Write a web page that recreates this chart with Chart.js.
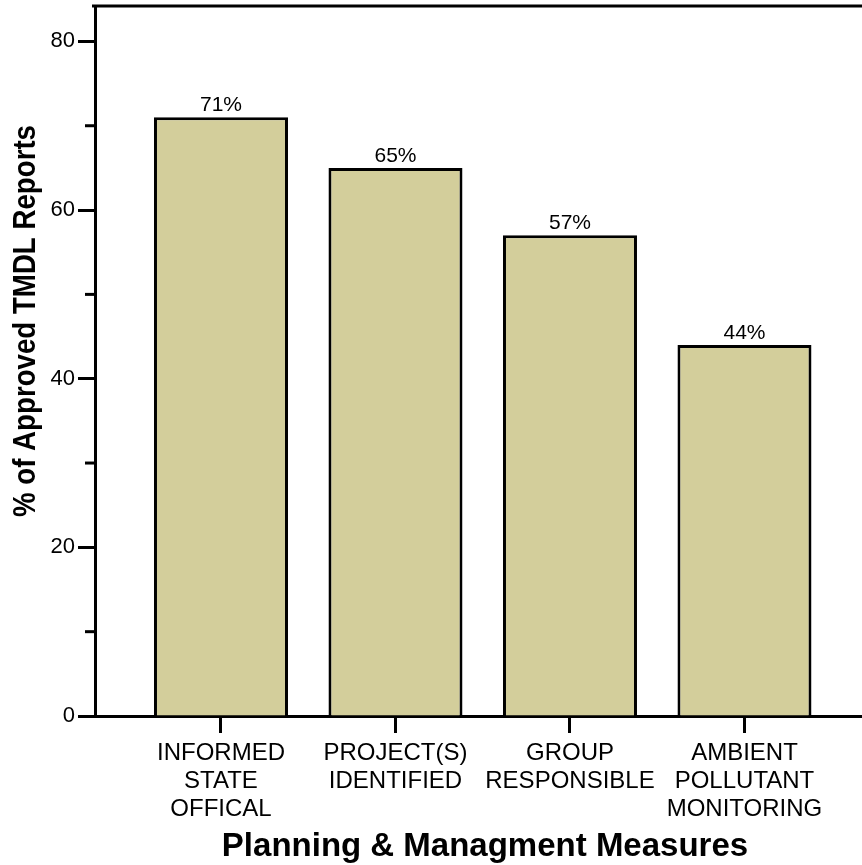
<!DOCTYPE html>
<html>
<head>
<meta charset="utf-8">
<script src="https://cdn.jsdelivr.net/npm/chart.js@4"></script>
<style>
  html, body { margin: 0; padding: 0; background: #fff; overflow: hidden; }
  #wrap { width: 862px; height: 865px; overflow: hidden; }
</style>
</head>
<body>
<div id="wrap"><canvas id="barChart" width="875" height="865"></canvas></div>
<script>
const categories = [
  ["INFORMED", "STATE", "OFFICAL"],
  ["PROJECT(S)", "IDENTIFIED"],
  ["GROUP", "RESPONSIBLE"],
  ["AMBIENT", "POLLUTANT", "MONITORING"]
];
const percents = [71, 65, 57, 44];
const yTicks = [0, 10, 20, 30, 40, 50, 60, 70, 80];
const yLabelled = [0, 20, 40, 60, 80];
const xTitle = "Planning & Managment Measures";
const yTitle = "% of Approved TMDL Reports";

const family = "'Liberation Sans', Arial, sans-serif";

// labels above bars, axis titles, top frame line and the short minor ticks
const extras = {
  id: "extras",
  afterDatasetsDraw(chart) {
    const ctx = chart.ctx;
    const meta = chart.getDatasetMeta(0);
    ctx.save();
    ctx.font = "21px " + family;
    ctx.fillStyle = "#000";
    ctx.textAlign = "center";
    ctx.textBaseline = "alphabetic";
    meta.data.forEach((bar, i) => {
      ctx.fillText(percents[i] + "%", bar.x, bar.y - 6);
    });
    ctx.restore();
  },
  afterDraw(chart) {
    const { ctx, chartArea, scales } = chart;
    ctx.save();
    ctx.strokeStyle = "#000";
    ctx.lineWidth = 3;
    ctx.beginPath();
    ctx.moveTo(chartArea.left - 3, chartArea.top);
    ctx.lineTo(chart.width, chartArea.top);
    ctx.stroke();
    yTicks.forEach((v) => {
      if (yLabelled.includes(v)) return;
      const y = scales.y.getPixelForValue(v);
      ctx.beginPath();
      ctx.moveTo(chartArea.left - 10, y);
      ctx.lineTo(chartArea.left, y);
      ctx.stroke();
    });

    ctx.fillStyle = "#000";
    ctx.textAlign = "center";
    ctx.textBaseline = "alphabetic";
    ctx.font = "bold 33px " + family;
    ctx.fillText(xTitle, 485, 856);

    // y title is set in a narrower bold face in the original
    ctx.save();
    ctx.font = "bold 32px " + family;
    ctx.translate(35, 321);
    ctx.rotate(-Math.PI / 2);
    ctx.scale(392 / ctx.measureText(yTitle).width, 1);
    ctx.fillText(yTitle, 0, 0);
    ctx.restore();

    ctx.restore();
  },
};

function drawChart() {
  const canvas = document.getElementById("barChart");
  const config = {
    type: "bar",
    data: {
      datasets: [
        {
          data: percents.map((v, i) => ({ x: i + 1, y: v })),
          backgroundColor: "rgb(211,206,155)",
          borderColor: "#000",
          borderWidth: 3,
          barPercentage: 0.768,
          categoryPercentage: 1.0,
        },
      ],
    },
    options: {
      responsive: false,
      animation: false,
      layout: { padding: { top: 6, left: 0, right: 0, bottom: 0 } },
      plugins: { legend: { display: false }, tooltip: { enabled: false } },
      scales: {
        x: {
          type: "linear",
          offset: false,
          min: 0.278,
          max: 4.748,
          afterFit(scale) { scale.height = 149; },
          afterBuildTicks(scale) { scale.ticks = categories.map((c, i) => ({ value: i + 1 })); },
          border: { color: "#000", width: 3 },
          grid: { offset: false, drawOnChartArea: false, tickLength: 17, tickWidth: 3, tickColor: "#000" },
          ticks: {
            padding: 7,
            color: "#000",
            maxRotation: 0,
            autoSkip: false,
            font: { size: 24, family: family, lineHeight: 1.155 },
            callback: (v) => categories[Math.round(v) - 1],
          },
        },
        y: {
          min: 0,
          max: 84.2,
          afterFit(scale) {
            scale.width = 95;
            scale.paddingTop = 0;
            scale.paddingBottom = 0;
          },
          afterBuildTicks(scale) { scale.ticks = yTicks.map((v) => ({ value: v })); },
          border: { color: "#000", width: 3 },
          grid: {
            drawOnChartArea: false,
            tickLength: 17,
            tickWidth: 3,
            tickColor: (c) => (c.tick && yLabelled.includes(c.tick.value) ? "#000" : "rgba(0,0,0,0)"),
          },
          ticks: {
            padding: 3,
            color: "#000",
            font: { size: 22, family: family },
            callback: (v) => (yLabelled.includes(v) ? String(v) : ""),
          },
        },
      },
    },
    plugins: [extras],
  };
  new Chart(canvas, config);
}

drawChart();
</script>
</body>
</html>
